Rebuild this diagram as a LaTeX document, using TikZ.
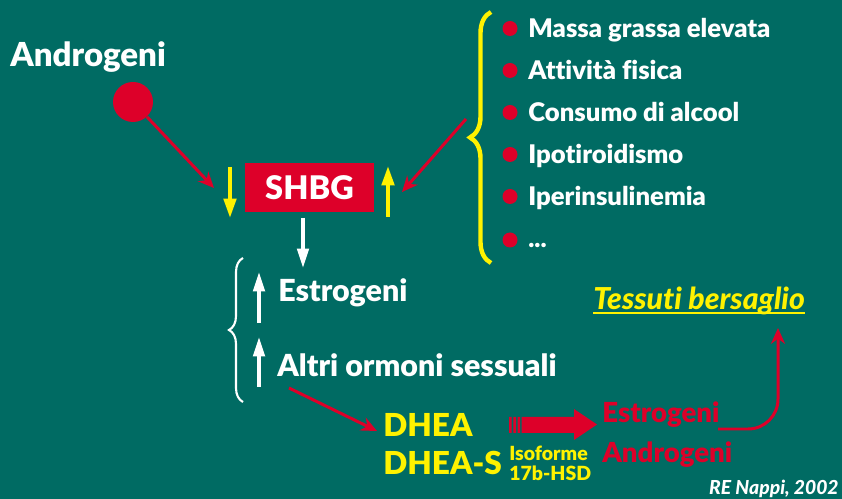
\documentclass[tikz,border=0pt]{standalone}
\usepackage{fontspec}
\setmainfont{Lato}[BoldFont={Lato Black}, Ligatures=NoCommon]
\usetikzlibrary{arrows.meta,positioning,decorations.pathreplacing}
\definecolor{bgteal}{RGB}{0,107,99}
\definecolor{hormred}{RGB}{221,0,41}
\definecolor{hormyellow}{RGB}{255,242,0}
\begin{document}
\begin{tikzpicture}[x=0.02cm, y=-0.02cm,
  lbl/.style={anchor=base west, inner sep=0pt, text=white, font=\fontsize{14.6}{17}\selectfont\bfseries},
  big/.style={lbl, font=\fontsize{17.3}{20}\selectfont\bfseries},
  bullet/.style={circle, fill=hormred, inner sep=0pt, minimum size=0.3cm},
  redarr/.style={draw=hormred, line width=1.7pt, -{Stealth[length=9pt,width=8pt]}},
  yelarr/.style={draw=hormyellow, line width=2.2pt, -{Triangle[length=11pt,width=7pt]}},
  whtarr/.style={draw=white, line width=2pt, -{Triangle[length=11pt,width=6.5pt]}},
  brc/.style={decorate, decoration={brace, amplitude=#1}}]
\fill[bgteal] (0,0) rectangle (842,499);
\path[use as bounding box] (0,0) rectangle (842,499);

% androgens and SHBG
\node[lbl, font=\fontsize{18.8}{22}\selectfont\bfseries] (andro) at (10,67) {Androgeni};
\node[circle, fill=hormred, inner sep=0pt, minimum size=0.8cm] (androdot) at (133,102) {};
\node[fill=hormred, text=white, font=\fontsize{18.5}{21}\selectfont\bfseries, minimum width=2.58cm, minimum height=0.98cm] (shbg) at (309.5,187.5) {SHBG};
\coordinate (inL) at (214,188);
\coordinate (inR) at (402,192);
\coordinate (risk) at (466,119);
\draw[redarr] (androdot) -- (inL);
\draw[redarr] (risk) -- (inR);
\coordinate (dnA) at (230,167);
\coordinate (dnB) at (230,218);
\coordinate (upA) at (388,217);
\coordinate (upB) at (388,166);
\draw[yelarr] (dnA) -- (dnB);
\draw[yelarr] (upA) -- (upB);

% factors
\draw[hormyellow, line width=2.5pt, brc=0.42cm] (491,263) -- (491,12);
\foreach \txt [count=\i] in {Massa grassa elevata, Attività fisica, Consumo di alcool, Ipotiroidismo, Iperinsulinemia}{
  \node[lbl] (f\i) at (528,38+42*\i-42) {\txt};
  \node[bullet] (b\i) at (510,28.5+42*\i-42) {};
}
\node[lbl] (f6) at (528,248) {...};
\node[bullet] (b6) at (510,240) {};

% free hormones
\coordinate (shA) at (303,218);
\coordinate (shB) at (303,268);
\draw[whtarr] (shA) -- (shB);
\draw[white, line width=1.2pt, brc=0.28cm] (243,402) -- (243,258);
\node[big] (estro) at (278,302) {Estrogeni};
\node[big] (altri) at (277,377) {Altri ormoni sessuali};
\coordinate (e1a) at (259,323);
\coordinate (e1b) at (259,272);
\coordinate (e2a) at (259,387);
\coordinate (e2b) at (259,337);
\draw[whtarr] (e1a) -- (e1b);
\draw[whtarr] (e2a) -- (e2b);

% DHEA conversion
\node[lbl, text=hormyellow, font=\fontsize{18}{21}\selectfont\bfseries] (dhea) at (383,437) {DHEA};
\node[lbl, text=hormyellow, font=\fontsize{18}{21}\selectfont\bfseries] (dheas) at (383,475) {DHEA-S};
\coordinate (aS) at (289,388);
\coordinate (aE) at (377,431);
\draw[redarr] (aS) -- (aE);
\node[lbl, text=hormyellow, font=\fontsize{11.1}{13}\selectfont\bfseries] (iso) at (509,461) {Isoforme};
\node[lbl, text=hormyellow, font=\fontsize{11.1}{13}\selectfont\bfseries] (hsd) at (509,481) {17b-HSD};
\fill[hormred] (509,417) rectangle (511.5,433) (513.3,417) rectangle (516,433) (517.7,417) rectangle (520.2,433);
\fill[hormred] (521.7,417) -- (574,417) -- (574,409) -- (597,424.5) -- (574,440) -- (574,433) -- (521.7,433) -- cycle;
\node[lbl, text=hormred, font=\fontsize{15.7}{18}\selectfont\bfseries] (estR) at (602,423) {Estrogeni};
\node[lbl, text=hormred, font=\fontsize{15.7}{18}\selectfont\bfseries] (andR) at (602,463) {Androgeni};

% target tissues
\node[lbl, text=hormyellow, font=\fontsize{17.2}{20}\selectfont\bfseries\itshape] (tess) at (593,310) {Tessuti bersaglio};
\draw[hormyellow, line width=1.1pt] ([yshift=-1.8pt]tess.base west) -- ([yshift=-1.8pt]tess.base east);
\coordinate (cA) at (718,429);
\coordinate (cB) at (778,429);
\coordinate (tgt) at (778,328);
\draw[redarr, rounded corners=17pt] (cA) -- (cB) -- (tgt);
\node[lbl, anchor=base east, font=\fontsize{11}{13}\selectfont\bfseries\itshape] (ref) at (839,495) {RE Nappi, 2002};
\end{tikzpicture}
\end{document}
